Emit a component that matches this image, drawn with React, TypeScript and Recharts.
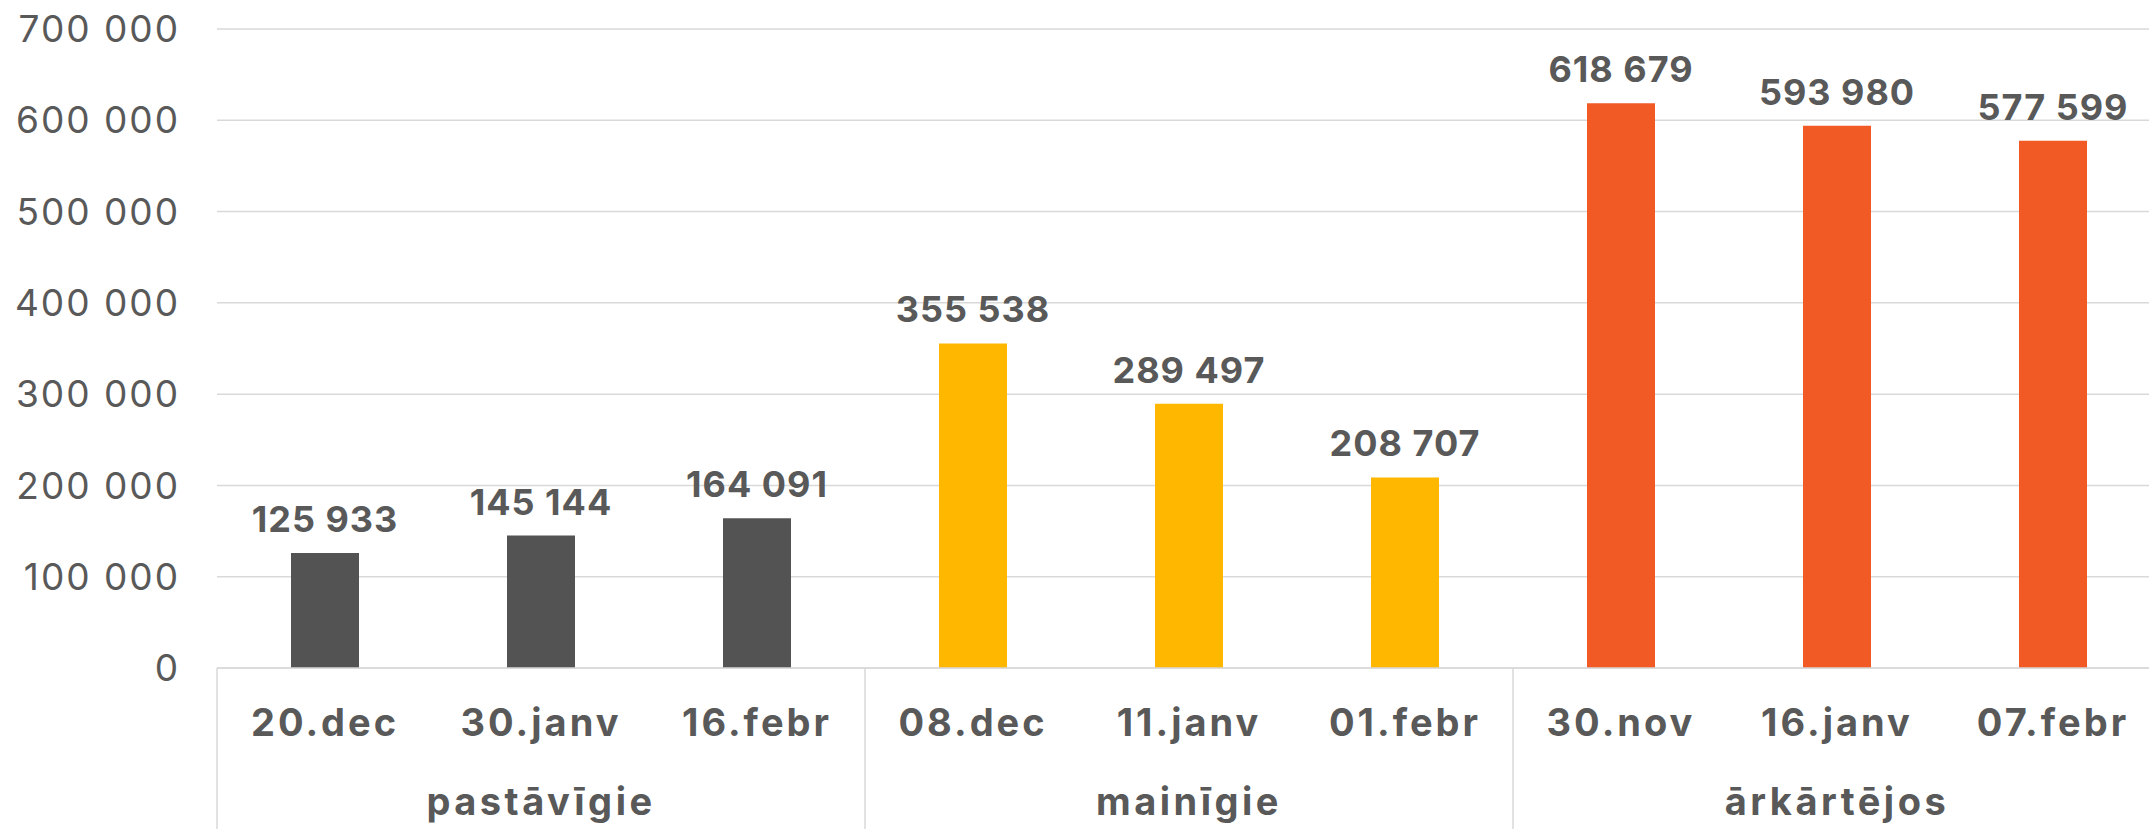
import React from "react";
import { BarChart, Bar, XAxis, YAxis, CartesianGrid, Cell, LabelList } from "recharts";

const categories = ["20.dec", "30.janv", "16.febr", "08.dec", "11.janv", "01.febr", "30.nov", "16.janv", "07.febr"];
const groups = ["pastāvīgie", "pastāvīgie", "pastāvīgie", "mainīgie", "mainīgie", "mainīgie", "ārkārtējos", "ārkārtējos", "ārkārtējos"];
const values = [125933, 145144, 164091, 355538, 289497, 208707, 618679, 593980, 577599];
const groupColors: Record<string, string> = {
  "pastāvīgie": "#535353",
  "mainīgie": "#FFB700",
  "ārkārtējos": "#F15A24",
};
const yTicks = [0, 100000, 200000, 300000, 400000, 500000, 600000, 700000];

const data = categories.map((c, i) => ({ date: c, group: groups[i], value: values[i] }));

const FONT = "Inter, 'DejaVu Sans', sans-serif";
const TEXT = "#595959";
const GRID = "#d9d9d9";

const fmt = (v: number) => String(v).replace(/\B(?=(\d{3})+(?!\d))/g, " ");

const XTick = (props: any) => {
  const { x, y, payload, index, width } = props;
  const half = payload?.offset || (width ? width / categories.length / 2 : 0);
  const i = typeof index === "number" ? index : payload.index;
  const showGroup = i % 3 === 1;
  return (
    <g>
      {i % 3 === 0 && (
        <line x1={x - half} x2={x - half} y1={y} y2={y + 200} stroke={GRID} strokeWidth={1.5} />
      )}
      {i === categories.length - 1 && (
        <line x1={x + half} x2={x + half} y1={y} y2={y + 200} stroke={GRID} strokeWidth={1.5} />
      )}
      <text x={x} y={y + 68} textAnchor="middle" fill={TEXT} fontFamily={FONT} fontWeight={700} fontSize={38} letterSpacing={3}>
        {payload.value}
      </text>
      {showGroup && (
        <text x={x} y={y + 147} textAnchor="middle" fill={TEXT} fontFamily={FONT} fontWeight={700} fontSize={38} letterSpacing={3.5}>
          {groups[i]}
        </text>
      )}
    </g>
  );
};

const ValueLabel = (props: any) => {
  const { x, y, width, value } = props;
  return (
    <text x={x + width / 2} y={y - 21} textAnchor="middle" fill={TEXT} fontFamily={FONT} fontWeight={700} fontSize={36} letterSpacing={1}>
      {fmt(value)}
    </text>
  );
};

export default function App() {
  return (
    <div style={{ position: "fixed", left: 0, top: 0, width: 2149, height: 829, overflow: "hidden", background: "#fff" }}>
      <BarChart width={2161} height={829} data={data} margin={{ top: 29, right: 0, bottom: 0, left: 0 }}>
        <CartesianGrid vertical={false} stroke={GRID} strokeWidth={1.5} />
        <YAxis
          type="number"
          domain={[0, 700000]}
          ticks={yTicks}
          interval={0}
          width={217}
          axisLine={false}
          tickLine={false}
          tickSize={0}
          tickMargin={37}
          tickFormatter={fmt}
          tick={{ fill: TEXT, fontSize: 37, fontFamily: FONT, letterSpacing: 2 }}
        />
        <XAxis
          dataKey="date"
          interval={0}
          height={161}
          tickLine={false}
          tickSize={0}
          tickMargin={0}
          axisLine={{ stroke: GRID, strokeWidth: 1.5 }}
          tick={<XTick />}
        />
        <Bar dataKey="value" barSize={68} isAnimationActive={false}>
          {data.map((d, i) => (
            <Cell key={i} fill={groupColors[d.group]} />
          ))}
          <LabelList dataKey="value" content={<ValueLabel />} />
        </Bar>
      </BarChart>
    </div>
  );
}
